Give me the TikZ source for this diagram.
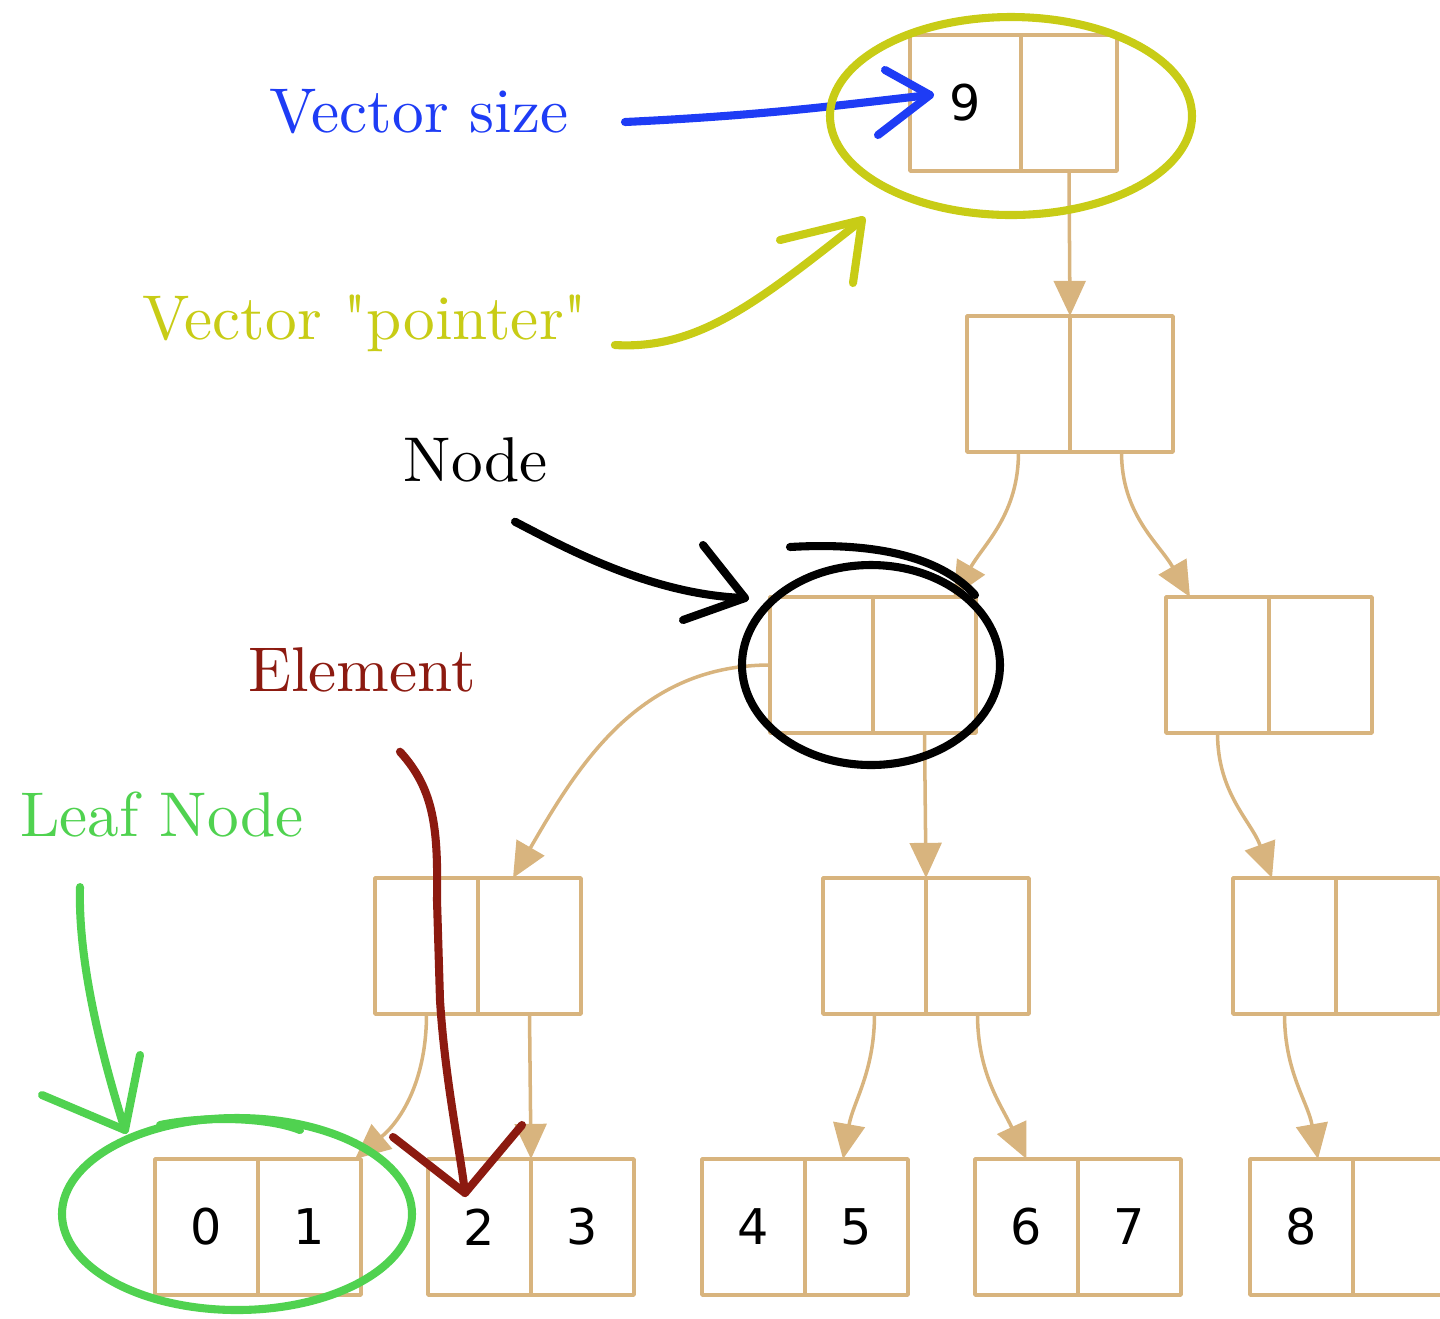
\documentclass[tikz,border=0pt]{standalone}
\usepackage{fontspec}
\newfontfamily\numfont{DejaVu Sans}
\newfontfamily\notefont{lmroman10-regular.otf}
\usetikzlibrary{arrows.meta}
\definecolor{burly}{RGB}{216,180,126}
\definecolor{vblue}{RGB}{30,60,245}
\definecolor{vyel}{RGB}{200,204,22}
\definecolor{vred}{RGB}{140,26,16}
\definecolor{vgreen}{RGB}{80,210,80}

\begin{document}
\begin{tikzpicture}[line cap=round,line join=round]
\tikzstyle{cell}=[draw=burly,line width=1pt,minimum width=1.03cm,minimum height=1.36cm,inner sep=0,outer sep=0,font=\fontsize{14}{14}\numfont]
\tikzstyle{link}=[draw=burly,line width=1pt,-{Triangle[length=10pt,width=9pt]}]
\tikzstyle{ink}=[line width=2.3pt]
\tikzstyle{note}=[font=\fontsize{18}{20}\notefont]

\useasboundingbox (0,0) rectangle (14.4,-13.18);

\node[cell,minimum width=1.11cm] (r0) at (9.655,-1.03) {9};
\node[cell,minimum width=0.96cm] (r1) at (10.69,-1.03) {};

\node[cell] (a0) at (10.185,-3.84) {};
\node[cell] (a1) at (11.215,-3.84) {};

\node[cell] (b0) at (8.215,-6.65) {};
\node[cell] (b1) at (9.245,-6.65) {};
\node[cell] (c0) at (12.175,-6.65) {};
\node[cell] (c1) at (13.205,-6.65) {};

\node[cell] (d0) at (4.265,-9.46) {};
\node[cell] (d1) at (5.295,-9.46) {};
\node[cell] (e0) at (8.745,-9.46) {};
\node[cell] (e1) at (9.775,-9.46) {};
\node[cell] (f0) at (12.845,-9.46) {};
\node[cell] (f1) at (13.875,-9.46) {};

\foreach \n/\x/\t in {0/2.065/0,1/3.095/1,2/4.795/2,3/5.825/3,4/7.535/4,5/8.565/5,6/10.265/6,7/11.295/7,8/13.015/8,9/14.045/{}} {
  \node[cell] (l\n) at (\x,-12.27) {\t};
}

\draw[link] (r1.south) -- (a0.north east);
\draw[link] (a0.south) to[out=-90,in=60] ([xshift=0.29cm]b1.north);
\draw[link] (a1.south) to[out=-90,in=120] ([xshift=-0.275cm]c0.north);
\draw[link] (b0.west) to[out=180,in=60] ([xshift=-0.165cm]d1.north);
\draw[link] (b1.south) -- (e0.north east);
\draw[link] (c0.south) to[out=-90,in=110] ([xshift=-0.125cm]f0.north);
\draw[link] (d0.south) to[out=-90,in=40] ([xshift=-0.06cm]l1.north east);
\draw[link] (d1.south) -- (l2.north east);
\draw[link] (e0.south) to[out=-90,in=80] ([xshift=-0.135cm]l5.north);
\draw[link] (e1.south) to[out=-90,in=115] (l6.north);
\draw[link] (f0.south) to[out=-90,in=100] ([xshift=0.165cm]l8.north);

\node[note,text=vblue] (vsize) at (4.19,-1.12) {Vector size};
\node[note,text=vyel] (vptr) at (3.65,-3.23) {Vector "pointer"};
\node[note] (nd) at (4.76,-4.60) {Node};
\node[note,text=vred] (el) at (3.62,-6.70) {Element};
\node[note,text=vgreen] (leaf) at (1.62,-8.15) {Leaf Node};

\coordinate (vs) at (9.30,-0.95);
\coordinate (vp) at (8.62,-2.20);
\coordinate (nt) at (7.45,-5.98);
\coordinate (et) at (4.65,-11.93);
\coordinate (lt) at (1.25,-11.30);

\draw[vblue,ink] ([xshift=0.44cm,yshift=-0.1cm]vsize.east) .. controls (7.7,-1.15) and (8.4,-1.05) .. (vs);
\draw[vblue,ink] (vs) ++(-0.45,0.25) -- (vs) -- ++(-0.52,-0.40);
\draw[vyel,ink] (10.11,-1.16) ellipse [x radius=1.81,y radius=0.99];

\draw[vyel,ink] ([xshift=0.15cm,yshift=-0.22cm]vptr.east) .. controls (7.0,-3.5) and (7.6,-3.0) .. (vp);
\draw[vyel,ink] (vp) ++(-0.82,-0.2) -- (vp) -- ++(-0.09,-0.63);

\draw[ink] ([xshift=0.39cm,yshift=-0.27cm]nd.south) .. controls (5.6,-5.45) and (6.5,-5.95) .. (nt);
\draw[ink] (nt) ++(-0.42,0.53) -- (nt) -- ++(-0.62,-0.22);
\draw[ink] (8.71,-6.65) ellipse [x radius=1.29,y radius=1.0];
\draw[ink] (7.9,-5.47) .. controls (8.4,-5.44) and (9.3,-5.45) .. (9.75,-5.95);

\draw[vred,ink] ([xshift=0.38cm,yshift=-0.47cm]el.south) .. controls (4.35,-7.9) and (4.38,-8.3) .. (4.37,-9.0) -- (4.40,-10.0) .. controls (4.45,-10.8) and (4.6,-11.5) .. (et);
\draw[vred,ink] (et) ++(-0.72,0.56) -- (et) -- ++(0.57,0.68);

\draw[vgreen,ink] ([xshift=-0.82cm,yshift=-0.37cm]leaf.south) .. controls (0.78,-9.6) and (1.0,-10.5) .. (lt);
\draw[vgreen,ink] (lt) ++(-0.83,0.35) -- (lt) -- ++(0.15,0.75);
\draw[vgreen,ink] (2.37,-12.14) ellipse [x radius=1.75,y radius=0.96];
\draw[vgreen,ink] (1.6,-11.25) .. controls (2.1,-11.15) and (2.7,-11.18) .. (3.0,-11.3);
\end{tikzpicture}
\end{document}
